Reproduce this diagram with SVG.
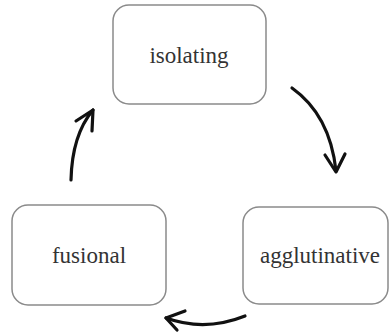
<svg xmlns="http://www.w3.org/2000/svg" width="390" height="335" viewBox="0 0 390 335">
<style>
.box{fill:#fff;stroke:#8a8a8a;stroke-width:1.5}
.lbl{font-family:"Liberation Serif","DejaVu Serif",serif;font-size:23px;fill:#333;text-anchor:middle}
.arr{fill:none;stroke:#111;stroke-width:3.2;stroke-linecap:round;stroke-linejoin:round}
</style>
<rect width="390" height="335" fill="#fff"/>
<g id="isolating">
<rect class="box" x="113" y="5" width="153" height="99" rx="16"/>
<text class="lbl" x="189" y="63">isolating</text>
</g>
<g id="agglutinative">
<rect class="box" x="243" y="207" width="145" height="97" rx="16"/>
<text class="lbl" x="320" y="263">agglutinative</text>
</g>
<g id="fusional">
<rect class="box" x="12" y="205" width="154" height="100" rx="16"/>
<text class="lbl" x="89" y="263">fusional</text>
</g>
<g id="connectors">
<path class="arr" d="M292 88 Q330 115 336 171"/>
<path class="arr" d="M325 155 L336 172 L345 154"/>
<path class="arr" d="M245 316 Q205 332 166 318"/>
<path class="arr" d="M185 311 L166 318 L177 330"/>
<path class="arr" d="M71 180 Q72 135 93 110"/>
<path class="arr" d="M76 121 L93 110 L92 131"/>
</g>
</svg>
